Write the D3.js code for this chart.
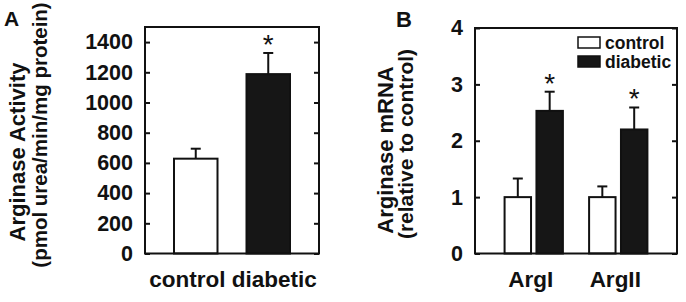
<!DOCTYPE html>
<html><head><meta charset="utf-8">
<script src="https://cdn.jsdelivr.net/npm/d3@7"></script>
<style>
body{margin:0;background:#fff;}
svg text{font-family:"Liberation Sans",Arial,sans-serif;font-weight:bold;fill:#111;}
</style></head>
<body><svg id="c" width="686" height="302"></svg>
<script>
// Panel A data
const catsA = ["control", "diabetic"];
const valsA = [628, 1188];
const errA = [66, 140];
const sigA = [false, true];
const ticksA = [0, 200, 400, 600, 800, 1000, 1200, 1400];

// Panel B data
const genesB = ["ArgI", "ArgII"];
const groupsB = ["control", "diabetic"];
const controlB = [1.0, 1.0];
const diabeticB = [2.53, 2.2];
const controlErrB = [0.33, 0.19];
const diabeticErrB = [0.34, 0.39];
const sigB = [true, true];
const ticksB = [0, 1, 2, 3, 4];

const svg = d3.select("#c");
const fills = {control: "#ffffff", diabetic: "#161616"};

function frame(g, x0, x1, y0, y1){
  g.append("rect").attr("x", x0).attr("y", y1).attr("width", x1 - x0).attr("height", y0 - y1)
   .attr("fill", "none").attr("stroke", "#111").attr("stroke-width", 2);
}
function yAxes(g, y, ticks, x0, x1){
  const la = g.append("g").attr("transform", `translate(${x0},0)`)
    .call(d3.axisLeft(y).tickValues(ticks).tickSize(-5).tickPadding(12).tickFormat(d3.format("d")));
  la.select(".domain").remove();
  la.selectAll("line").attr("stroke", "#111").attr("stroke-width", 2);
  la.selectAll("text").style("font-size", "21.5px").attr("fill", "#111");
  const ra = g.append("g").attr("transform", `translate(${x1},0)`)
    .call(d3.axisRight(y).tickValues(ticks).tickSize(-5).tickFormat(""));
  ra.select(".domain").remove();
  ra.selectAll("line").attr("stroke", "#111").attr("stroke-width", 2);
}
function errBar(g, cx, yTop, yErr){
  g.append("line").attr("x1", cx).attr("x2", cx).attr("y1", yTop).attr("y2", yErr)
   .attr("stroke", "#111").attr("stroke-width", 2);
  g.append("line").attr("x1", cx - 5).attr("x2", cx + 5).attr("y1", yErr).attr("y2", yErr)
   .attr("stroke", "#111").attr("stroke-width", 2);
}
function star(g, cx, yErr){
  g.append("text").attr("x", cx).attr("y", yErr + 1).attr("text-anchor", "middle")
   .style("font-size", "28px").style("font-weight", "normal").text("*");
}

// ---------- Panel A ----------
{
  const L = 145, R = 319, B = 253.5, T = 27;
  const g = svg.append("g");
  const y = d3.scaleLinear().domain([0, 1500]).range([B, T]);
  const x = d3.scaleBand().domain(catsA).range([L, R]).paddingInner(0.4).paddingOuter(0.4);
  yAxes(g, y, ticksA, L, R);
  catsA.forEach((c, i) => {
    g.append("rect").attr("x", x(c)).attr("width", x.bandwidth())
     .attr("y", y(valsA[i])).attr("height", y(0) - y(valsA[i]))
     .attr("fill", fills[c]).attr("stroke", "#111").attr("stroke-width", 2);
    const cx = x(c) + x.bandwidth() / 2;
    errBar(g, cx, y(valsA[i]), y(valsA[i] + errA[i]));
    if (sigA[i]) star(g, cx, y(valsA[i] + errA[i]));
  });
  frame(g, L, R, B, T);
  g.append("text").attr("x", (L + R) / 2 + 1).attr("y", 287).attr("text-anchor", "middle")
   .style("font-size", "22.5px").text(catsA.join(" "));
  g.append("text").attr("transform", `translate(25,152) rotate(-90)`).attr("text-anchor", "middle")
   .style("font-size", "22px").text("Arginase Activity");
  g.append("text").attr("transform", `translate(47,135) rotate(-90)`).attr("text-anchor", "middle")
   .style("font-size", "20.5px").text("(pmol urea/min/mg protein)");
  g.append("text").attr("x", 4).attr("y", 26).style("font-size", "21px").text("A");
}

// ---------- Panel B ----------
{
  const L = 475, R = 677, B = 253.5, T = 28;
  const g = svg.append("g");
  const y = d3.scaleLinear().domain([0, 4]).range([B, T]);
  const x0 = d3.scaleBand().domain(genesB).range([L, R]).paddingInner(0.31).paddingOuter(0.35);
  const x1 = d3.scaleBand().domain(groupsB).range([0, x0.bandwidth()]).paddingInner(0.17);
  yAxes(g, y, ticksB, L, R);
  const vals = {control: controlB, diabetic: diabeticB};
  const errs = {control: controlErrB, diabetic: diabeticErrB};
  genesB.forEach((gene, i) => {
    groupsB.forEach(grp => {
      const v = vals[grp][i], e = errs[grp][i];
      const bx = x0(gene) + x1(grp);
      g.append("rect").attr("x", bx).attr("width", x1.bandwidth())
       .attr("y", y(v)).attr("height", y(0) - y(v))
       .attr("fill", fills[grp]).attr("stroke", "#111").attr("stroke-width", 2);
      const cx = bx + x1.bandwidth() / 2;
      errBar(g, cx, y(v), y(v + e));
      if (grp === "diabetic" && sigB[i]) star(g, cx, y(v + e));
    });
    g.append("text").attr("x", x0(gene) + x0.bandwidth() / 2 - 3).attr("y", 287).attr("text-anchor", "middle")
     .style("font-size", "22.5px").text(gene);
  });
  frame(g, L, R, B, T);
  // legend
  groupsB.forEach((grp, i) => {
    const ly = 37 + i * 19;
    g.append("rect").attr("x", 578).attr("y", ly).attr("width", 22).attr("height", 11)
     .attr("fill", fills[grp]).attr("stroke", "#111").attr("stroke-width", 1.5);
    g.append("text").attr("x", 605).attr("y", ly + 11.5).style("font-size", "17.5px").text(grp);
  });
  g.append("text").attr("transform", `translate(393,150) rotate(-90)`).attr("text-anchor", "middle")
   .style("font-size", "22px").text("Arginase mRNA");
  g.append("text").attr("transform", `translate(413,144) rotate(-90)`).attr("text-anchor", "middle")
   .style("font-size", "21px").text("(relative to control)");
  g.append("text").attr("x", 396).attr("y", 27).style("font-size", "22px").text("B");
}
</script></body></html>
